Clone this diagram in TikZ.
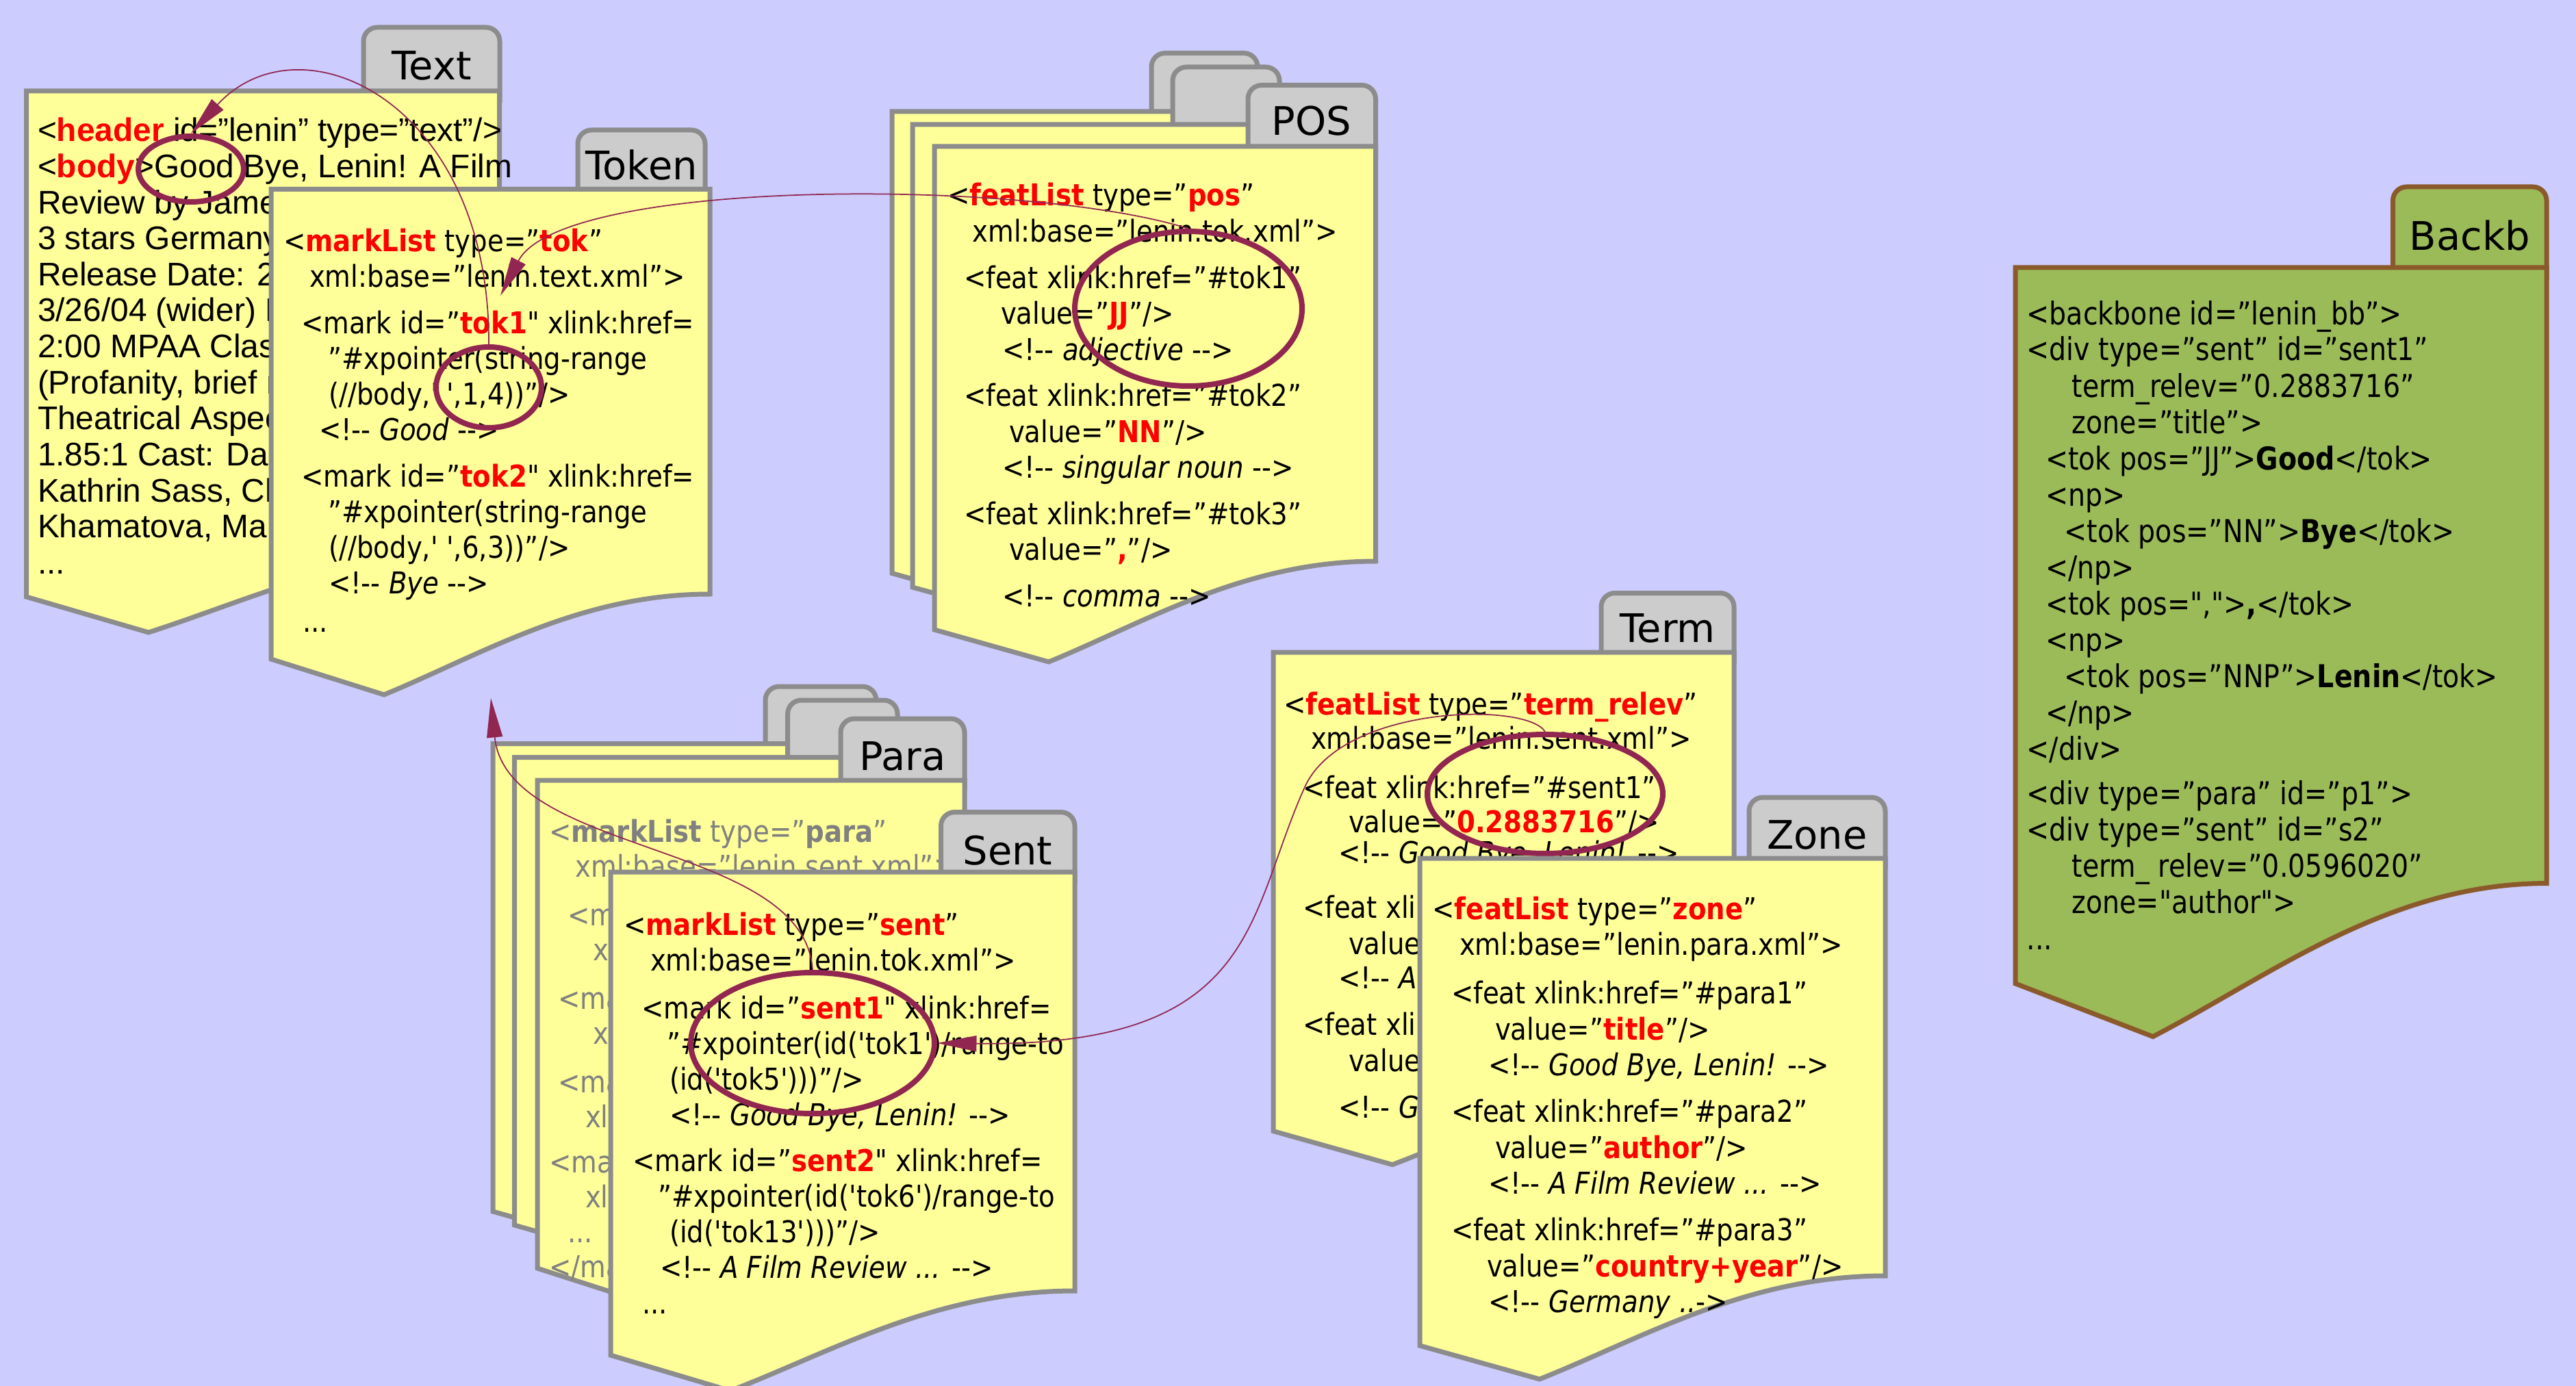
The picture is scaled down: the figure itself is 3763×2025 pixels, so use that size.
\documentclass[tikz,border=0pt]{standalone}
\usepackage{fontspec}
\setmainfont{DejaVu Sans}[Ligatures=TeXOff]
\newfontfamily\cf{DejaVu Sans}[Ligatures=TeXOff,FakeStretch=0.88]
\newfontfamily\bbf{DejaVu Sans}[Ligatures=TeXOff,FakeStretch=0.86]
\newfontfamily\tdf{Liberation Sans}[Ligatures=TeXOff]
\usetikzlibrary{shapes.geometric,arrows.meta}
\definecolor{bgc}{HTML}{CCCCFF}
\definecolor{docy}{HTML}{FFFF99}
\definecolor{bord}{HTML}{8C8C8C}
\definecolor{tabg}{HTML}{CCCCCC}
\definecolor{maroon}{HTML}{912650}
\definecolor{bbg}{HTML}{9BBB59}
\definecolor{bbb}{HTML}{8B5A2B}
\definecolor{paragrey}{HTML}{808080}
\newcommand\R[1]{\textcolor{red}{\textbf{#1}}}
\newcommand\I[1]{\textit{#1}}
\newcommand\Ln[2]{\hbox{\kern#1pt\relax #2}}
\newcommand\Gap[1]{\vskip#1pt\relax}
% #1 style, #2 L, #3 T, #4 R, #5 BR, #6 BL, #7 LX, #8 LY
\newcommand\docshape[8]{%
  \path[#1] (#2,#3) -- (#4,#3) -- (#4,#5)
    .. controls ({#4-0.4*(#4-#7)},#5) and ({#7+0.3*(#4-#7)},{#8-0.4*(#8-#5)}) .. (#7,#8)
    -- (#2,#6) -- cycle;}
% #1 style, #2 L, #3 R, #4 T, #5 B
\newcommand\tabshape[5]{%
  \path[#1, rounded corners=4pt] (#2,#5) -- (#2,#4) -- (#3,#4) -- (#3,#5);}
\tikzset{
  doc/.style={fill=docy, draw=bord, line width=1.4pt},
  tabst/.style={fill=tabg, draw=bord, line width=1.4pt},
  bbdoc/.style={fill=bbg, draw=bbb, line width=1.4pt},
  tablab/.style={anchor=base, inner sep=0pt, font=\fontsize{11.5}{12}\selectfont},
  txt/.style={anchor=base west, inner sep=0pt, outer sep=0pt},
  ell/.style={ellipse, draw=maroon, line width=1.6pt, inner sep=0pt},
  arr/.style={draw=maroon, line width=0.35pt, -{Triangle[length=11.5pt,width=4.6pt,fill=maroon]}}
}
\begin{document}
\begin{tikzpicture}[x=0.2pt,y=-0.2pt]
\useasboundingbox (0,0) rectangle (3763,2025);
\clip (0,0) rectangle (3763,2025);
\fill[bgc] (0,0) rectangle (3763,2025);

% ---------- Text ----------
\tabshape{tabst}{531}{730}{40}{150}
\node[tablab] (lText) at (630.5,117) {Text};
\docshape{doc}{38.6}{133}{729.6}{800}{872}{217}{924}
\node[txt] (tText) at (55,207) {\tdf\fontsize{9.57}{10.52}\selectfont\vtop{\baselineskip=10.52pt\lineskiplimit=-20pt
\Ln{0}{<\R{header} id=”lenin” type=”text”/>}
\Ln{0}{<\R{body}>Good Bye, Lenin! A Film}
\Ln{0}{Review by James}
\Ln{0}{3 stars Germany}
\Ln{0}{Release Date: 20}
\Ln{0}{3/26/04 (wider) R}
\Ln{0}{2:00 MPAA Class}
\Ln{0}{(Profanity, brief n}
\Ln{0}{Theatrical Aspect}
\Ln{0}{1.85:1 Cast: Dan}
\Ln{0}{Kathrin Sass, Ch}
\Ln{0}{Khamatova, Mar}
\Ln{0}{...}}};
\node[ell, minimum width=30.8pt, minimum height=19.2pt] (eText) at (279,247) {};

% ---------- Token ----------
\tabshape{tabst}{844}{1030}{190}{290}
\node[tablab] (lTok) at (937,263) {Token};
\docshape{doc}{396}{276.5}{1037}{868}{963}{561}{1015}
\node[txt] (tTok) at (414,367.5) {\cf\fontsize{8.8}{10.4}\selectfont\vtop{\baselineskip=10.4pt\lineskiplimit=-20pt
\Ln{0}{<\R{markList} type=”\R{tok}”}
\Ln{7.6}{xml:base=”lenin.text.xml”>}
\Gap{3.2}
\Ln{5.2}{<mark id=”\R{tok1}" xlink:href=}
\Ln{13}{”\#xpointer(string-range}
\Ln{13.2}{(//body,' ',1,4))”/>}
\Ln{10.4}{<!-- \I{Good} -->}
\Gap{3.2}
\Ln{5.2}{<mark id=”\R{tok2}" xlink:href=}
\Ln{13}{”\#xpointer(string-range}
\Ln{13.2}{(//body,' ',6,3))”/>}
\Ln{13.2}{<!-- \I{Bye} -->}
\Gap{0.8}
\Ln{5.6}{...}}};
\node[ell, minimum width=30.8pt, minimum height=23.6pt] (eTok) at (714,566) {};
\coordinate (tokTip) at (731,432);
\coordinate (tokBot) at (717,1020);

% ---------- POS ----------
\tabshape{tabst}{1682}{1837}{77.6}{180}
\docshape{doc}{1303}{163}{1960}{769}{837.6}{1474}{885}
\tabshape{tabst}{1713}{1869}{98}{200}
\docshape{doc}{1333}{182}{1990}{790}{858}{1505}{905}
\tabshape{tabst}{1823}{2009.5}{124.5}{230}
\node[tablab] (lPOS) at (1916,198) {POS};
\docshape{doc}{1365}{214}{2009.5}{820}{920}{1532}{967}
\node[txt] (tPOS) at (1384,300.6) {\cf\fontsize{8.8}{10.5}\selectfont\vtop{\baselineskip=10.5pt\lineskiplimit=-20pt
\Ln{0}{<\R{featList} type=”\R{pos}”}
\Ln{7.3}{xml:base=”lenin.tok.xml”>}
\Gap{3.1}
\Ln{4.8}{<feat xlink:href=”\#tok1”}
\Ln{15.6}{value=”\R{JJ}”/>}
\Ln{16}{<!-- \I{adjective} -->}
\Gap{3.0}
\Ln{4.8}{<feat xlink:href=”\#tok2”}
\Ln{18}{value=”\R{NN}”/>}
\Ln{16}{<!-- \I{singular noun} -->}
\Gap{3.0}
\Ln{4.8}{<feat xlink:href=”\#tok3”}
\Ln{18}{value=”\R{,}”/>}
\Gap{3.0}
\Ln{16}{<!-- \I{comma} -->}}};
\node[ell, minimum width=66.4pt, minimum height=45.2pt] (ePOS) at (1736,451) {};

% ---------- Para ----------
\tabshape{tabst}{1118}{1280}{1003}{1100}
\docshape{doc}{720}{1086.6}{1395}{1650}{1770}{880}{1815}
\tabshape{tabst}{1150.6}{1311}{1023}{1120}
\docshape{doc}{751.7}{1106.6}{1400}{1680}{1790}{910}{1835}
\tabshape{tabst}{1228}{1409}{1050}{1155}
\node[tablab] (lPara) at (1318.5,1125) {Para};
\docshape{doc}{785}{1140}{1409}{1760}{1853}{947}{1905}
\node[txt] (tPara) at (802,1230) {\cf\fontsize{8.8}{10.2}\selectfont\color{paragrey}\vtop{\baselineskip=10.2pt\lineskiplimit=-20pt
\Ln{0}{<\textbf{markList} type=”\textbf{para}”}
\Ln{7.7}{xml:base=”lenin.sent.xml”>}
\Gap{4}
\Ln{5.4}{<mark id=”para1"}
\Ln{12.9}{xlink:href=}
\Gap{4}
\Ln{2.6}{<mark id=”para2"}
\Ln{12.9}{xlink:href=}
\Gap{4}
\Ln{2.6}{<mark id=”para3"}
\Ln{10.6}{xlink:href=}
\Gap{3.1}
\Ln{0}{<mark id=”para4"}
\Ln{10.6}{xlink:href=}
\Ln{5.4}{...}
\Ln{0}{</markList>}}};

% ---------- Sent ----------
\tabshape{tabst}{1374.5}{1570}{1186.6}{1290}
\node[tablab] (lSent) at (1472,1263) {Sent};
\docshape{doc}{892}{1274}{1570}{1886}{1980}{1067}{2032}
\node[txt] (tSent) at (911,1366.5) {\cf\fontsize{8.8}{10.4}\selectfont\vtop{\baselineskip=10.4pt\lineskiplimit=-20pt
\Ln{0}{<\R{markList} type=”\R{sent}”}
\Ln{7.8}{xml:base=”lenin.tok.xml”>}
\Gap{3.6}
\Ln{5.2}{<mark id=”\R{sent1}" xlink:href=}
\Ln{12.6}{”\#xpointer(id('tok1')/range-to}
\Ln{13.4}{(id('tok5')))”/>}
\Ln{13.4}{<!-- \I{Good Bye, Lenin!} -->}
\Gap{3.0}
\Ln{2.6}{<mark id=”\R{sent2}" xlink:href=}
\Ln{10}{”\#xpointer(id('tok6')/range-to}
\Ln{13.4}{(id('tok13')))”/>}
\Ln{10.6}{<!-- \I{A Film Review ...} -->}
\Ln{5.4}{...}}};
\node[ell, minimum width=71.2pt, minimum height=41.2pt] (eSent) at (1187,1524) {};

% ---------- Term ----------
\tabshape{tabst}{2339}{2533}{866.5}{970}
\node[tablab] (lTerm) at (2436,938) {Term};
\docshape{doc}{1860}{953}{2533}{1560}{1652.6}{2034}{1701.6}
\node[txt] (tTerm) at (1875,1044) {\cf\fontsize{8.8}{10}\selectfont\vtop{\baselineskip=10pt\lineskiplimit=-20pt
\Ln{0}{<\R{featList} type=”\R{term\_relev}”}
\Ln{8}{xml:base=”lenin.sent.xml”>}
\Gap{4.4}
\Ln{5.6}{<feat xlink:href=”\#sent1”}
\Ln{19}{value=”\R{0.2883716}”/>}
\Gap{-0.9}
\Ln{16}{<!-- \I{Good Bye, Lenin!} -->}
\Gap{5.9}
\Ln{5.6}{<feat xlink:href=”\#sent2”}
\Gap{0.6}
\Ln{19}{value=”0.0596020”/>}
\Ln{16}{<!-- \I{A Film Review ...} -->}
\Gap{3.6}
\Ln{5.6}{<feat xlink:href=”\#sent3”}
\Gap{0.6}
\Ln{19}{value=”0.0”/>}
\Gap{3.6}
\Ln{16}{<!-- \I{Germany ...} -->}}};
\node[ell, minimum width=68.8pt, minimum height=34.8pt] (eTerm) at (2257,1160) {};

% ---------- Zone ----------
\tabshape{tabst}{2555}{2754}{1165}{1270}
\node[tablab] (lZone) at (2654.5,1240.6) {Zone};
\docshape{doc}{2074}{1254}{2754}{1864}{1966}{2249}{2015}
\node[txt] (tZone) at (2092.5,1343) {\cf\fontsize{8.8}{10.5}\selectfont\vtop{\baselineskip=10.5pt\lineskiplimit=-20pt
\Ln{0}{<\R{featList} type=”\R{zone}”}
\Ln{7.9}{xml:base=”lenin.para.xml”>}
\Gap{3.7}
\Ln{5.5}{<feat xlink:href=”\#para1”}
\Ln{18.3}{value=”\R{title}”/>}
\Ln{16.3}{<!-- \I{Good Bye, Lenin!} -->}
\Gap{3.1}
\Ln{5.5}{<feat xlink:href=”\#para2”}
\Ln{18.3}{value=”\R{author}”/>}
\Ln{16.3}{<!-- \I{A Film Review ...} -->}
\Gap{3.1}
\Ln{5.5}{<feat xlink:href=”\#para3”}
\Ln{15.9}{value=”\R{country+year}”/>}
\Ln{16.3}{<!-- \I{Germany ..}->}}};

% ---------- Backbone ----------
\path[bbdoc, rounded corners=4pt] (3495.5,410) -- (3495.5,273) -- (3720,273) -- (3720,410);
\node[tablab] (lBB) at (3608,366) {Backb};
\docshape{bbdoc}{2944}{391}{3720}{1290.6}{1437}{3145}{1514.5}
\node[txt] (tBB) at (2960.5,474) {\bbf\fontsize{9.2}{10.6}\selectfont\vtop{\baselineskip=10.6pt\lineskiplimit=-20pt
\Ln{0}{<backbone id=”lenin\_bb”>}
\Ln{0}{<div type=”sent” id=”sent1”}
\Ln{13.2}{term\_relev=”0.2883716”}
\Ln{13.2}{zone=”title”>}
\Ln{5.5}{<tok pos=”JJ”>\textbf{Good}</tok>}
\Ln{5.5}{<np>}
\Ln{11}{<tok pos=”NN”>\textbf{Bye}</tok>}
\Ln{5.5}{</np>}
\Ln{5.5}{<tok pos=",">\textbf{,}</tok>}
\Ln{5.5}{<np>}
\Ln{11}{<tok pos=”NNP”>\textbf{Lenin}</tok>}
\Ln{5.5}{</np>}
\Ln{0}{</div>}
\Gap{2.5}
\Ln{0}{<div type=”para” id=”p1”>}
\Ln{0}{<div type=”sent” id=”s2”}
\Ln{13.2}{term\_ relev=”0.0596020”}
\Ln{13.2}{zone="author">}
\Ln{0}{...}}};

% ---------- Arrows ----------
\draw[arr] (eTok.north) .. controls (716,150) and (440,20) .. (eText.north);
\draw[arr] (ePOS.north) .. controls (1500,260) and (820,260) .. (tokTip);
\draw[arr] (eSent.north) .. controls (1175,1230) and (740,1250) .. (tokBot);
\draw[arr] (eTerm.north) .. controls (2230,1025) and (1960,1030) .. (1906,1150)
   .. controls (1820,1340) and (1840,1530) .. (eSent.east);
\end{tikzpicture}
\end{document}
